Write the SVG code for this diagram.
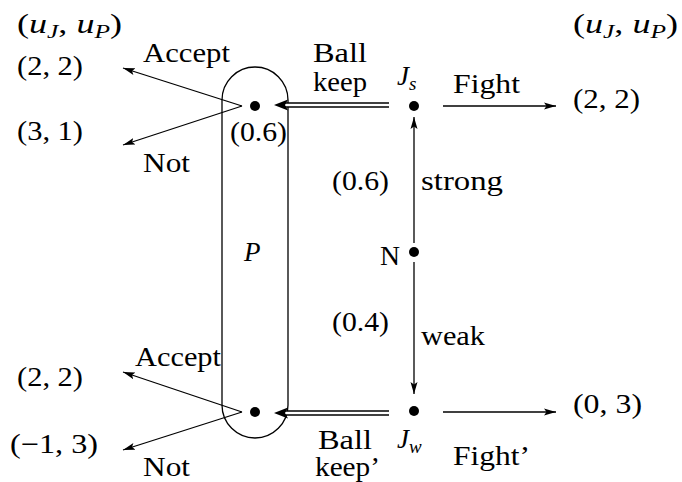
<svg xmlns="http://www.w3.org/2000/svg" width="682" height="482" viewBox="0 0 682 482">
<style>
text{font-family:"Liberation Serif","Times New Roman",serif;font-size:27px;fill:#000}
.it{font-style:italic}
.sub{font-style:italic;font-size:19px}
.ln{stroke:#000;stroke-width:1.3;fill:none}
.dot{fill:#000}
.dbl-out{stroke:#000;stroke-width:5.5;fill:none}
.dbl-in{stroke:#fff;stroke-width:2.5;fill:none}
</style>
<defs>
<marker id="ah" markerWidth="14" markerHeight="10" refX="12" refY="5" orient="auto" markerUnits="userSpaceOnUse">
<path d="M0,1.5 L12,5 L0,8.5 L2.5,5 Z" fill="#000"/>
</marker>
</defs>
<rect width="682" height="482" fill="#fff"/>

<g id="headers">
<text x="17" y="33" textLength="105" lengthAdjust="spacingAndGlyphs">(<tspan class="it">u</tspan><tspan class="sub" dy="5">J</tspan><tspan dy="-5">, </tspan><tspan class="it">u</tspan><tspan class="sub" dy="5">P</tspan><tspan dy="-5">)</tspan></text>
<text x="573" y="33" textLength="105" lengthAdjust="spacingAndGlyphs">(<tspan class="it">u</tspan><tspan class="sub" dy="5">J</tspan><tspan dy="-5">, </tspan><tspan class="it">u</tspan><tspan class="sub" dy="5">P</tspan><tspan dy="-5">)</tspan></text>
</g>

<g id="P-infoset">
<rect x="222" y="67" width="66" height="371" rx="33" ry="33" class="ln"/>
<text x="244" y="261" class="it">P</text>
</g>

<g id="connectors">
<line x1="242" y1="106" x2="123" y2="68" class="ln" marker-end="url(#ah)"/>
<line x1="242" y1="106" x2="123" y2="145" class="ln" marker-end="url(#ah)"/>
<line x1="242" y1="412" x2="123" y2="372" class="ln" marker-end="url(#ah)"/>
<line x1="242" y1="412" x2="123" y2="450" class="ln" marker-end="url(#ah)"/>
<line x1="443" y1="106" x2="556" y2="106" class="ln" marker-end="url(#ah)"/>
<line x1="443" y1="412" x2="556" y2="412" class="ln" marker-end="url(#ah)"/>
<line x1="414" y1="243" x2="414" y2="117" class="ln" marker-end="url(#ah)"/>
<line x1="414" y1="262" x2="414" y2="394" class="ln" marker-end="url(#ah)"/>
<line x1="389" y1="105" x2="284" y2="105" class="dbl-out"/>
<line x1="389" y1="105" x2="283" y2="105" class="dbl-in"/>
<path d="M274,105 L288,99.5 L285,105 L288,110.5 Z" fill="#000"/>
<line x1="389" y1="413" x2="284" y2="413" class="dbl-out"/>
<line x1="389" y1="413" x2="283" y2="413" class="dbl-in"/>
<path d="M274,413 L288,407.5 L285,413 L288,418.5 Z" fill="#000"/>
</g>

<g id="node-P-top">
<circle cx="255" cy="106" r="5" class="dot"/>
<text x="230" y="141" textLength="57" lengthAdjust="spacingAndGlyphs">(0.6)</text>
</g>
<g id="node-P-bottom">
<circle cx="255" cy="412" r="5" class="dot"/>
</g>
<g id="node-Js">
<circle cx="414" cy="106" r="5" class="dot"/>
<text x="397" y="85" class="it">J<tspan class="sub" dy="5">s</tspan></text>
</g>
<g id="node-Jw">
<circle cx="414" cy="411" r="5" class="dot"/>
<text x="397" y="448" class="it">J<tspan class="sub" dy="5">w</tspan></text>
</g>
<g id="node-N">
<circle cx="414" cy="252" r="5" class="dot"/>
<text x="380" y="265" textLength="20" lengthAdjust="spacingAndGlyphs">N</text>
</g>

<g id="labels">
<text x="143" y="62" textLength="87" lengthAdjust="spacingAndGlyphs">Accept</text>
<text x="143" y="172" textLength="47" lengthAdjust="spacingAndGlyphs">Not</text>
<text x="135" y="366" textLength="86" lengthAdjust="spacingAndGlyphs">Accept</text>
<text x="143" y="476" textLength="47" lengthAdjust="spacingAndGlyphs">Not</text>
<text x="313" y="62" textLength="54" lengthAdjust="spacingAndGlyphs">Ball</text>
<text x="313" y="91" textLength="54" lengthAdjust="spacingAndGlyphs">keep</text>
<text x="318" y="449" textLength="54" lengthAdjust="spacingAndGlyphs">Ball</text>
<text x="315" y="476" textLength="65" lengthAdjust="spacingAndGlyphs">keep’</text>
<text x="453" y="93" textLength="67" lengthAdjust="spacingAndGlyphs">Fight</text>
<text x="453" y="465" textLength="77" lengthAdjust="spacingAndGlyphs">Fight’</text>
<text x="332" y="190" textLength="57" lengthAdjust="spacingAndGlyphs">(0.6)</text>
<text x="421" y="190" textLength="82" lengthAdjust="spacingAndGlyphs">strong</text>
<text x="332" y="331" textLength="57" lengthAdjust="spacingAndGlyphs">(0.4)</text>
<text x="421" y="345" textLength="64" lengthAdjust="spacingAndGlyphs">weak</text>
</g>

<g id="payoffs">
<text x="17" y="75" textLength="66" lengthAdjust="spacingAndGlyphs">(2, 2)</text>
<text x="17" y="140" textLength="66" lengthAdjust="spacingAndGlyphs">(3, 1)</text>
<text x="17" y="386" textLength="66" lengthAdjust="spacingAndGlyphs">(2, 2)</text>
<text x="10" y="453" textLength="88" lengthAdjust="spacingAndGlyphs">(−1, 3)</text>
<text x="573" y="108" textLength="67" lengthAdjust="spacingAndGlyphs">(2, 2)</text>
<text x="573" y="413" textLength="69" lengthAdjust="spacingAndGlyphs">(0, 3)</text>
</g>
</svg>
